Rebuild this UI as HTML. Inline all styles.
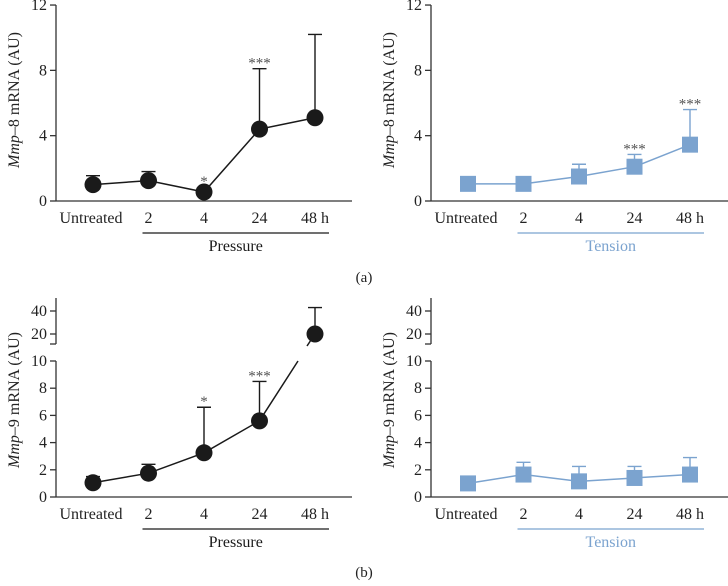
<!DOCTYPE html>
<html><head><meta charset="utf-8"><style>
body{margin:0;background:#fff}
svg text{font-family:"Liberation Serif",serif;fill:#222}
</style></head><body>
<svg id="s" width="728" height="581" xmlns="http://www.w3.org/2000/svg"></svg>
<script>
const categories=["Untreated","2","4","24","48 h"];
const aPressMean=[1.0,1.25,0.55,4.4,5.1];
const aPressErr=[1.55,1.8,null,8.1,10.2];
const aPressSig=["","","*","***",""];
const aTensMean=[1.05,1.05,1.5,2.1,3.45];
const aTensErr=[null,null,2.25,2.85,5.6];
const aTensSig=["","","","***","***"];
const bPressMean=[1.05,1.75,3.25,5.6,20];
const bPressErr=[1.5,2.4,6.6,8.5,43];
const bPressSig=["","","*","***",""];
const bTensMean=[1.0,1.65,1.15,1.4,1.65];
const bTensErr=[null,2.55,2.25,2.25,2.9];
const bTensSig=["","","","",""];
const aTicks=[0,4,8,12];
const bLowTicks=[0,2,4,6,8,10];
const bHighTicks=[20,40];

const S=document.getElementById('s');
const NS='http://www.w3.org/2000/svg';
function mk(t,a,p,txt){const e=document.createElementNS(NS,t);for(const k in a)e.setAttribute(k,a[k]);if(txt!==undefined)e.textContent=txt;(p||S).appendChild(e);return e;}

function panel(o){
  const g=mk('g',{});
  
  
  const ax=o.ax, col=o.col;
  const xs=i=>ax+37+i*55.5;
  const xa=mk('line',{x1:ax,y1:o.y0,x2:ax+o.w,y2:o.y0,stroke:'#333','stroke-width':1.3},g);
  
  
  if(o.broken){
    mk('line',{x1:ax,y1:o.y0,x2:ax,y2:o.yScale(10),stroke:'#333','stroke-width':1.3},g);
    mk('line',{x1:ax,y1:o.yTop,x2:ax,y2:o.brk,stroke:'#333','stroke-width':1.3},g);
    mk('line',{x1:ax-6,y1:o.brk,x2:ax,y2:o.brk,stroke:'#333','stroke-width':1.3},g);
  } else {
    mk('line',{x1:ax,y1:o.y0,x2:ax,y2:o.yScale(o.ticks[o.ticks.length-1]),stroke:'#333','stroke-width':1.3},g);
  }
  o.ticks.forEach(t=>{const y=o.yScale(t);
    mk('line',{x1:ax-6,y1:y,x2:ax,y2:y,stroke:'#333','stroke-width':1.3},g);
    const tl=mk('text',{x:ax-9,y:y+5,'text-anchor':'end','font-size':16},g,String(t));
    
    
  });
  const yt=mk('text',{transform:`translate(${ax-37},${o.ymid}) rotate(-90)`,'text-anchor':'middle','font-size':16},g);
  
  
  mk('tspan',{'font-style':'italic'},yt,'Mmp');mk('tspan',{},yt,o.ylab);
  categories.forEach((c,i)=>{const x=i==0?xs(0)-2:xs(i);
    const t=mk('text',{x:x,y:o.y0+22,'text-anchor':'middle','font-size':16},g,c);
    
    
  });
  const gl=mk('line',{x1:xs(1)-6,y1:o.y0+32,x2:xs(4)+14,y2:o.y0+32,stroke:col,'stroke-width':1.2},g);
  
  
  const gt=mk('text',{x:(xs(1)+xs(4))/2+4,y:o.y0+50,'text-anchor':'middle','font-size':16,style:'fill:'+col},g,o.group);
  
  
  o.err.forEach((e,i)=>{if(e==null)return;const x=xs(i);const y1=o.yScale(o.mean[i]),y2=o.yScale(e);
    const b=mk('path',{d:`M${x},${y1}V${y2}M${x-7},${y2}H${x+7}`,stroke:col,'stroke-width':1.4,fill:'none'},g);
    
    
  });
  const pts=o.mean.map((v,i)=>[xs(i),o.yScale(v)]);
  let d;
  if(o.broken&&o.mean[4]>10){
    const [x4,y4]=pts[4];
    const yb=o.yScale(10);
    d='M'+pts.slice(0,4).map(p=>p.join(',')).join('L')+`L${x4-17},${yb}M${x4-8},${y4+12}L${x4},${y4}`;
  } else d='M'+pts.map(p=>p.join(',')).join('L');
  const ln=mk('path',{d:d,stroke:col,'stroke-width':1.5,fill:'none'},g);
  
  
  pts.forEach((p,i)=>{let m;
    if(o.square) m=mk('rect',{x:p[0]-8,y:p[1]-8,width:16,height:16,fill:col},g);
    else m=mk('circle',{cx:p[0],cy:p[1],r:8.5,fill:col},g);
    
    
    if(o.sig[i]){const yy=o.yScale(o.err[i]!=null?o.err[i]:o.mean[i])-(o.err[i]!=null?9:14);
      const st=mk('text',{x:p[0],y:yy+8,'text-anchor':'middle','font-size':15,style:'fill:#555'},g,o.sig[i]);
      
      }
  });
}
function linA(v){return 201-v*16.33;}
function linB(v){return v<=10?497-v*13.6:334-(v-20)*23/20;}
panel({name:'panel-a-pressure',ax:56,w:296,y0:201,yScale:linA,ticks:aTicks,ymid:100,ylab:'–8 mRNA (AU)',group:'Pressure',col:'#1a1a1a',mean:aPressMean,err:aPressErr,sig:aPressSig});
panel({name:'panel-a-tension',ax:431,w:297,y0:201,yScale:linA,ticks:aTicks,ymid:100,ylab:'–8 mRNA (AU)',group:'Tension',col:'#7ba3cf',square:true,mean:aTensMean,err:aTensErr,sig:aTensSig});
panel({name:'panel-b-pressure',ax:56,w:296,y0:497,yScale:linB,ticks:bLowTicks.concat(bHighTicks),broken:true,yTop:298,brk:344,ymid:400,ylab:'–9 mRNA (AU)',group:'Pressure',col:'#1a1a1a',mean:bPressMean,err:bPressErr,sig:bPressSig});
panel({name:'panel-b-tension',ax:431,w:297,y0:497,yScale:linB,ticks:bLowTicks.concat(bHighTicks),broken:true,yTop:298,brk:344,ymid:400,ylab:'–9 mRNA (AU)',group:'Tension',col:'#7ba3cf',square:true,mean:bTensMean,err:bTensErr,sig:bTensSig});
const la=mk('text',{x:364,y:282,'text-anchor':'middle','font-size':15},S,'(a)');


const lb=mk('text',{x:364,y:577,'text-anchor':'middle','font-size':15},S,'(b)');


</script>
</body></html>
